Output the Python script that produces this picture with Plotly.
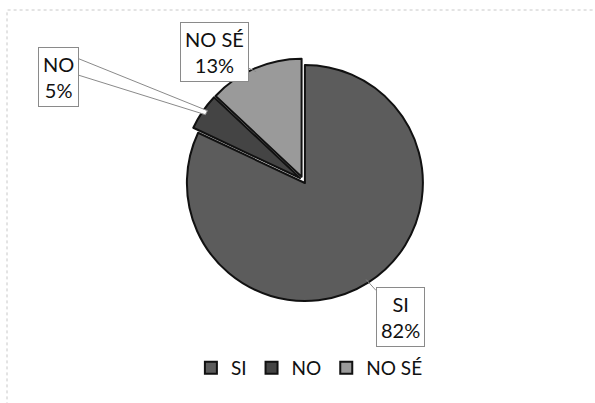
import math
import plotly.graph_objects as go

labels = ["SI", "NO", "NO SÉ"]
values = [82, 5, 13]
colors = ["#5c5c5c", "#444444", "#9a9a9a"]
label_text = ["SI<br>82%", "NO<br>5%", "NO SÉ<br>13%"]
# box centres (pixels) for the call-out labels
box_px = [(400, 317), (38, 47), (214, 52)]

W, H = 595, 403
cx, cy, R = 303, 180, 118
pull = 0.03
FONT = "Lato"

fig = go.Figure()
rpx = R * (1 + pull)
fig.add_trace(go.Pie(
    labels=labels, values=values, sort=False, direction="clockwise", rotation=0,
    marker=dict(colors=colors, line=dict(color="#111111", width=2)),
    pull=[pull] * 3, textinfo="none", hoverinfo="label+percent",
    domain=dict(x=[(cx - rpx) / W, (cx + rpx) / W], y=[1 - (cy + rpx) / H, 1 - (cy - rpx) / H]),
))

total = sum(values)
cum = 0
annotations = []
shapes = []
for i, v in enumerate(values):
    mid = (cum + v / 2) / total * 2 * math.pi
    cum += v
    axp = cx + R * math.sin(mid)
    ayp = cy - R * math.cos(mid)
    bx, by = box_px[i]
    if labels[i] == "NO":
        # wedge-shaped callout
        x0, y0a, y0b = bx + 24, by + 5, by + 23
        path = (f"M {x0/W},{1-y0a/H} L {(axp+2)/W},{1-(ayp-3)/H} "
                f"L {axp/W},{1-(ayp+1)/H} L {x0/W},{1-y0b/H} Z")
        shapes.append(dict(type="path", xref="paper", yref="paper", path=path,
                           fillcolor="white", line=dict(color="#8a8a8a", width=1)))
        annotations.append(dict(x=bx / W, y=1 - by / H, xref="paper", yref="paper",
                                text=label_text[i], showarrow=False,
                                font=dict(size=20, color="#111111", family=FONT),
                                bgcolor="white", bordercolor="#8a8a8a", borderwidth=1, borderpad=4))
    else:
        annotations.append(dict(x=axp / W, y=1 - ayp / H, xref="paper", yref="paper",
                                ax=bx - axp, ay=by - ayp, axref="pixel", ayref="pixel",
                                text=label_text[i], showarrow=True, arrowhead=0,
                                arrowwidth=1, arrowcolor="#8a8a8a",
                                font=dict(size=20, color="#111111", family=FONT),
                                bgcolor="white", bordercolor="#8a8a8a", borderwidth=1, borderpad=4))

shapes.append(dict(type="rect", xref="paper", yref="paper", x0=7 / W, x1=1.2, y0=-0.2, y1=1 - 10 / H,
                   line=dict(color="#c8c8c8", width=1, dash="dot"), layer="below"))

fig.update_layout(
    width=W, height=H, margin=dict(l=0, r=0, t=0, b=0),
    paper_bgcolor="white", plot_bgcolor="white",
    showlegend=True,
    legend=dict(orientation="h", x=0.52, xanchor="center", y=1 - 368 / H, yanchor="middle",
                font=dict(size=19, color="#111111", family=FONT), itemwidth=30,
                traceorder="normal"),
    annotations=annotations, shapes=shapes,
)
fig.write_html("out.html", config={"displayModeBar": False},
               post_script="document.body.style.margin='0';document.body.style.overflow='hidden';")
